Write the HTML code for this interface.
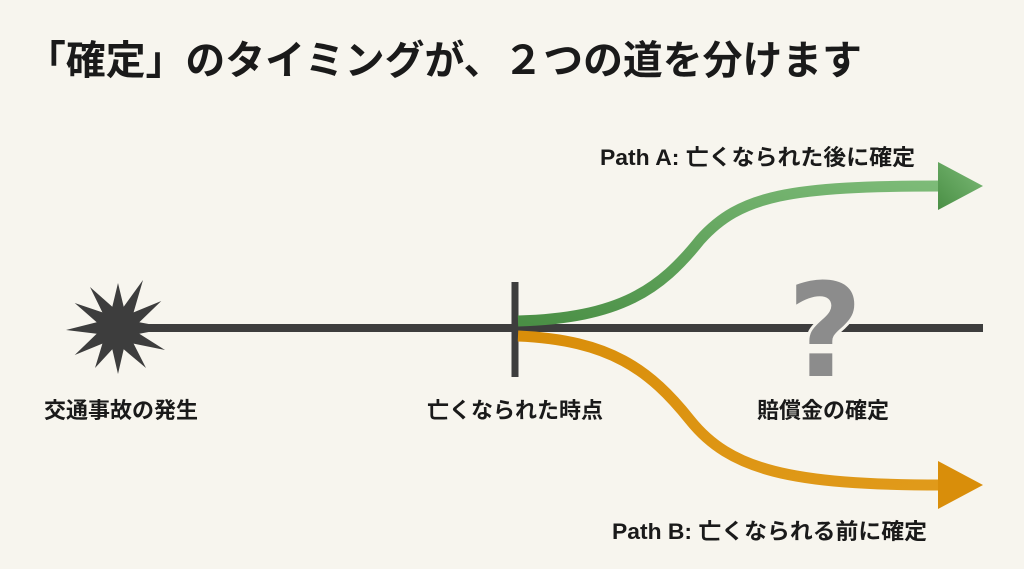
<!DOCTYPE html>
<html><head><meta charset="utf-8"><style>
body{margin:0;background:#f7f5ee;}
svg{display:block}
text{font-family:"Liberation Sans","Noto Sans CJK JP",sans-serif;font-weight:bold;fill:#1a1a1a}
</style></head><body>
<svg width="1024" height="569" viewBox="0 0 1024 569">
<defs>
<linearGradient id="g" x1="0" y1="1" x2="1" y2="0"><stop offset="0" stop-color="#4a8f45"/><stop offset="1" stop-color="#7dbb78"/></linearGradient>
<linearGradient id="o" x1="0" y1="0" x2="1" y2="1"><stop offset="0" stop-color="#d98e0a"/><stop offset="1" stop-color="#e09a1a"/></linearGradient>
</defs>
<rect width="1024" height="569" fill="#f7f5ee"/>
<text x="26" y="74" font-size="40" textLength="836" lengthAdjust="spacingAndGlyphs">「確定」のタイミングが、２つの道を分けます</text>
<line x1="130" y1="328" x2="983" y2="328" stroke="#3d3d3d" stroke-width="8"/>
<line x1="515" y1="282" x2="515" y2="377" stroke="#3d3d3d" stroke-width="7"/>
<polygon fill="#3d3d3d" points="170,328 139.3,322.3 161.3,301 133.6,312.4 143,280 123.7,306.7 118,283 112.3,306.7 90,287 102.4,312.4 74.7,303 96.7,322.3 66,330 96.7,333.7 74.7,355 102.4,343.6 95,368 112.3,349.3 118,374 123.7,349.3 146,368 133.6,343.6 165,350 139.3,333.7"/>
<path d="M518,321 C620,318 660,290 700,240 C740,195 790,186 942,186" fill="none" stroke="url(#g)" stroke-width="11"/>
<polygon points="938,162 983,186 938,210" fill="url(#g)"/>
<path d="M518,336 C610,340 650,370 690,420 C730,470 790,485 942,485" fill="none" stroke="url(#o)" stroke-width="11"/>
<polygon points="938,461 983,485 938,509" fill="#d98e0a"/>
<text x="825" y="376" font-size="130" text-anchor="middle" stroke="#f7f5ee" stroke-width="6" paint-order="stroke" style="fill:#8c8c8c;font-family:'DejaVu Sans',sans-serif">?</text>
<text x="121" y="418" font-size="22" text-anchor="middle">交通事故の発生</text>
<text x="515" y="418" font-size="22" text-anchor="middle">亡くなられた時点</text>
<text x="823" y="418" font-size="22" text-anchor="middle">賠償金の確定</text>
<text x="600" y="165" font-size="22" textLength="315" lengthAdjust="spacingAndGlyphs">Path A: 亡くなられた後に確定</text>
<text x="612" y="539" font-size="22" textLength="315" lengthAdjust="spacingAndGlyphs">Path B: 亡くなられる前に確定</text>
</svg>
</body></html>
